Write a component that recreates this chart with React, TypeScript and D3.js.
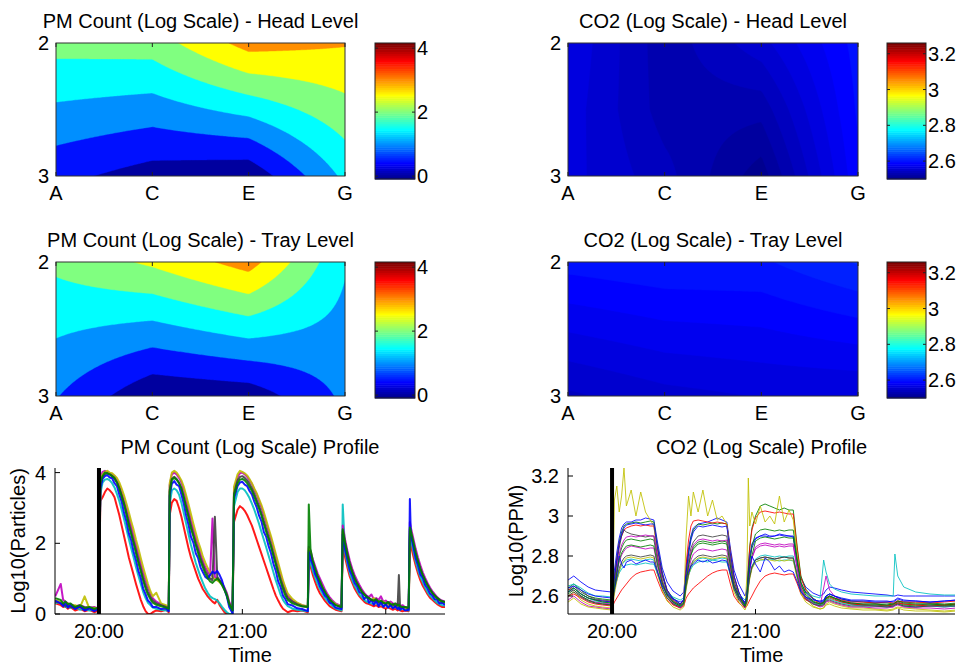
import React from 'react';
import * as d3 from 'd3';

const FONT = '"Liberation Sans", Arial, Helvetica, sans-serif';

// contour grids: first row is depth 2 (top), last row depth 3 (bottom); columns A, C, E, G
const positions = ['A', 'C', 'E', 'G'];
const depthTicks = [2, 3];

const pmHeadGrid = [
  [2.18, 2.24, 3.2, 3.04],
  [0.65, 0.27, 0.12, 1.61],
];
const pmTrayGrid = [
  [2.12, 2.59, 3.22, 1.56],
  [1.03, 0.09, 0.2, 1.1],
];
// the CO2 head grid also has a mid-depth row (2.5)
const co2HeadGrid = [
  [2.57, 2.528, 2.555, 2.6],
  [2.566, 2.53, 2.528, 2.597],
  [2.564, 2.54, 2.505, 2.592],
];
const co2TrayGrid = [
  [2.6, 2.605, 2.605, 2.62],
  [2.545, 2.555, 2.56, 2.56],
];

const pmLevels = [0, 0.5, 1, 1.5, 2, 2.5, 3, 3.5, 4];
const pmColorRange = [-0.09, 4.16];
const pmColorTicks = [0, 2, 4];
const co2ColorRange = [2.5, 3.26];
const co2ColorTicks = [2.6, 2.8, 3, 3.2];

// profiles: time in minutes after 19:00
const timeTicks = ['20:00', '21:00', '22:00'];
const eventStart = '20:00';
const pmTimeRange = [41.6, 204.8];
const co2TimeRange = [41.58, 203.44];
const pmYRange = [0, 4.13];
const pmYTicks = [0, 2, 4];
const co2YRange = [2.51, 3.24];
const co2YTicks = [2.6, 2.8, 3, 3.2];

const pmMinutes = [
  41.7, 44, 45, 46, 47, 48, 50, 52, 54, 56, 58, 59.8,
  60.6, 61.5, 62.5, 63.5, 64.5, 65.5, 66.5, 67.5, 68.5, 69.5, 70.5, 71.5, 72.5, 73.5, 74.5, 75.5, 76.5, 77.5, 78.5, 79.5, 80.5, 81.5, 82.5, 84, 86, 88, 89.2,
  89.6, 90.5, 91.5, 92.5, 93.5, 94.5, 95.5, 96.5, 97.5, 98.5, 99.5, 100.5, 101.5, 102.5, 103.5, 104.5, 105.5, 106.5, 107.5, 108.5, 109.5, 110.5, 111.5, 112.5, 113.5, 114.5, 115.9,
  116.5, 118, 119, 120, 121, 122, 123, 124, 125, 126, 127, 128, 129, 130, 131, 132, 133, 134, 135, 136, 137, 138, 139, 141, 143, 145, 147.4,
  147.8, 148.5, 149.5, 150.5, 151.5, 152.5, 153.5, 154.5, 155.5, 156.5, 157.5, 159, 161.5,
  162, 163, 164, 165, 166, 167, 168, 169, 170, 171, 172, 173, 174, 175, 176, 177, 178, 179, 180, 181, 182, 183, 184, 185, 185.5, 186, 187, 188, 189.6,
  190.1, 190.5, 191.5, 192.5, 193.5, 194.5, 195.5, 196.5, 197.5, 198.5, 199.5, 200.5, 201.5, 202.5, 203.5, 204.8,
];

const pmRed = [
  0.3, 0.25, 0.2, 0.22, 0.15, 0.2, 0.1, 0.15, 0.08, 0.12, 0.05, 0.1,
  3.2, 3.3, 3.45, 3.55, 3.5, 3.42, 3.3, 3.05, 2.8, 2.5, 2.2, 1.9, 1.6, 1.35, 1.1, 0.85, 0.62, 0.4, 0.22, 0.08, 0, 0, 0.05, 0.1, 0.08, 0.12, 0.05,
  2.8, 3.15, 3.25, 3.2, 3.0, 2.75, 2.45, 2.15, 1.85, 1.6, 1.4, 1.2, 1.0, 0.85, 0.7, 0.6, 0.5, 0.42, 0.35, 0.3, 0.4, 0.25, 0.15, 0.05, 0, 0, 0,
  2.6, 2.95, 3.05, 3.0, 2.92, 2.8, 2.65, 2.5, 2.3, 2.1, 1.9, 1.7, 1.5, 1.3, 1.1, 0.9, 0.7, 0.52, 0.38, 0.25, 0.15, 0.1, 0.05, 0.1, 0.08, 0.1, 0.05,
  1.5, 1.35, 1.1, 0.9, 0.72, 0.58, 0.48, 0.38, 0.3, 0.22, 0.18, 0.12, 0.08,
  2.0, 1.6, 1.3, 1.05, 0.88, 0.72, 0.6, 0.5, 0.42, 0.35, 0.3, 0.28, 0.25, 0.22, 0.25, 0.2, 0.22, 0.18, 0.15, 0.2, 0.15, 0.12, 0.15, 0.1, 0.12, 0.1, 0.08, 0.1, 0.08,
  2.1, 1.95, 1.65, 1.38, 1.15, 0.95, 0.8, 0.68, 0.56, 0.46, 0.4, 0.34, 0.28, 0.24, 0.2, 0.2,
];
const pmCyan = [
  0.3, 0.35, 0.25, 0.2, 0.22, 0.18, 0.2, 0.12, 0.15, 0.1, 0.12, 0.15,
  3.4, 3.72, 3.8, 3.82, 3.78, 3.7, 3.58, 3.4, 3.2, 2.95, 2.68, 2.4, 2.12, 1.85, 1.6, 1.32, 1.08, 0.85, 0.62, 0.45, 0.32, 0.25, 0.18, 0.15, 0.12, 0.1, 0.1,
  3.1, 3.5, 3.55, 3.5, 3.38, 3.15, 2.85, 2.55, 2.25, 1.95, 1.7, 1.45, 1.25, 1.05, 0.88, 0.72, 0.6, 0.5, 0.45, 0.42, 0.38, 0.3, 0.2, 0.12, 0.05, 0, 0,
  3.05, 3.45, 3.55, 3.55, 3.5, 3.4, 3.28, 3.12, 2.95, 2.75, 2.55, 2.32, 2.1, 1.88, 1.65, 1.42, 1.18, 0.95, 0.75, 0.55, 0.4, 0.3, 0.22, 0.15, 0.12, 0.1, 0.08,
  1.55, 1.45, 1.22, 1.02, 0.85, 0.7, 0.58, 0.46, 0.38, 0.3, 0.24, 0.16, 0.1,
  3.1, 1.75, 1.42, 1.15, 0.95, 0.8, 0.68, 0.55, 0.48, 0.4, 0.35, 0.32, 0.3, 0.28, 0.32, 0.25, 0.28, 0.22, 0.25, 0.2, 0.22, 0.18, 0.2, 0.15, 0.3, 0.12, 0.15, 0.12, 0.1,
  2.2, 2.1, 1.8, 1.5, 1.25, 1.05, 0.9, 0.75, 0.62, 0.52, 0.45, 0.38, 0.32, 0.28, 0.25, 0.24,
];
const pmMagenta = [
  0.5, 0.85, 0.4, 0.35, 0.3, 0.28, 0.22, 0.25, 0.2, 0.18, 0.2, 0.15,
  3.85, 4.02, 4.05, 4.02, 3.98, 3.95, 3.9, 3.8, 3.65, 3.45, 3.25, 3.0, 2.75, 2.48, 2.22, 1.95, 1.68, 1.42, 1.18, 0.95, 0.75, 0.58, 0.45, 0.35, 0.28, 0.22, 0.2,
  3.65, 3.95, 4.0, 3.95, 3.85, 3.72, 3.5, 3.25, 2.95, 2.65, 2.4, 2.15, 1.92, 1.7, 1.5, 1.32, 1.2, 1.1, 2.7, 1.05, 1.0, 0.95, 0.88, 0.75, 0.6, 0.35, 0.15,
  3.5, 3.88, 3.98, 4.0, 3.95, 3.88, 3.78, 3.68, 3.52, 3.38, 3.2, 3.02, 2.8, 2.58, 2.35, 2.12, 1.88, 1.62, 1.38, 1.12, 0.9, 0.7, 0.52, 0.38, 0.3, 0.25, 0.2,
  1.9, 1.78, 1.55, 1.35, 1.15, 1.0, 0.85, 0.7, 0.58, 0.48, 0.4, 0.3, 0.22,
  2.5, 2.1, 1.78, 1.5, 1.28, 1.1, 0.95, 0.82, 0.7, 0.6, 0.52, 0.48, 0.55, 0.42, 0.45, 0.4, 0.5, 0.35, 0.38, 0.32, 0.35, 0.3, 0.28, 0.3, 0.25, 0.22, 0.25, 0.2, 0.18,
  2.6, 2.45, 2.15, 1.85, 1.6, 1.38, 1.18, 1.02, 0.88, 0.75, 0.65, 0.56, 0.48, 0.42, 0.38, 0.35,
];
const pmOlive = [
  0.4, 0.35, 0.3, 0.25, 0.3, 0.22, 0.25, 0.18, 0.5, 0.15, 0.18, 0.12,
  3.75, 3.95, 4.02, 4.05, 4.0, 3.98, 3.92, 3.85, 3.72, 3.55, 3.35, 3.12, 2.88, 2.62, 2.38, 2.1, 1.85, 1.58, 1.32, 1.08, 0.85, 0.65, 0.5, 0.6, 0.3, 0.25, 0.2,
  3.7, 4.0, 4.05, 4.0, 3.9, 3.78, 3.6, 3.35, 3.1, 2.82, 2.55, 2.3, 2.05, 1.85, 1.62, 1.45, 1.3, 1.18, 1.05, 0.98, 0.95, 0.9, 0.82, 0.7, 0.55, 0.3, 0.12,
  3.6, 3.95, 4.05, 4.02, 3.98, 3.92, 3.82, 3.7, 3.55, 3.42, 3.25, 3.08, 2.88, 2.65, 2.42, 2.2, 1.95, 1.7, 1.45, 1.2, 0.95, 0.75, 0.58, 0.42, 0.32, 0.25, 0.22,
  1.85, 1.7, 1.45, 1.25, 1.05, 0.9, 0.75, 0.62, 0.52, 0.42, 0.35, 0.28, 0.2,
  2.3, 1.95, 1.62, 1.35, 1.15, 0.98, 0.85, 0.72, 0.62, 0.55, 0.48, 0.42, 0.38, 0.45, 0.35, 0.32, 0.3, 0.35, 0.28, 0.25, 0.3, 0.22, 0.25, 0.2, 0.22, 0.18, 0.2, 0.15, 0.15,
  2.35, 2.3, 2.0, 1.7, 1.45, 1.22, 1.05, 0.9, 0.78, 0.66, 0.56, 0.48, 0.42, 0.36, 0.32, 0.3,
];
const pmGray = [
  0.35, 0.3, 0.28, 0.22, 0.25, 0.2, 0.18, 0.2, 0.15, 0.18, 0.12, 0.15,
  3.65, 3.88, 3.95, 3.98, 3.95, 3.9, 3.82, 3.72, 3.55, 3.35, 3.12, 2.85, 2.58, 2.32, 2.05, 1.8, 1.52, 1.28, 1.02, 0.8, 0.62, 0.48, 0.38, 0.3, 0.25, 0.2, 0.18,
  3.5, 3.82, 3.88, 3.82, 3.72, 3.55, 3.3, 3.05, 2.78, 2.5, 2.25, 2.0, 1.8, 1.58, 1.4, 1.22, 1.1, 1.0, 0.95, 2.75, 1.05, 0.95, 0.85, 0.72, 0.55, 0.3, 0.1,
  3.4, 3.78, 3.88, 3.9, 3.85, 3.78, 3.68, 3.55, 3.4, 3.22, 3.05, 2.85, 2.62, 2.4, 2.18, 1.95, 1.7, 1.45, 1.2, 0.98, 0.78, 0.6, 0.45, 0.35, 0.28, 0.22, 0.2,
  1.8, 1.68, 1.45, 1.22, 1.02, 0.88, 0.72, 0.6, 0.5, 0.4, 0.32, 0.25, 0.18,
  2.35, 2.0, 1.7, 1.42, 1.2, 1.02, 0.88, 0.75, 0.65, 0.56, 0.5, 0.45, 0.4, 0.36, 0.4, 0.32, 0.35, 0.3, 0.28, 0.32, 0.25, 0.28, 0.22, 0.25, 1.1, 0.2, 0.18, 0.2, 0.15,
  2.4, 2.3, 2.0, 1.72, 1.48, 1.28, 1.1, 0.95, 0.82, 0.7, 0.6, 0.52, 0.46, 0.4, 0.36, 0.34,
];
const pmBlue = [
  0.38, 0.3, 0.22, 0.32, 0.18, 0.26, 0.14, 0.22, 0.1, 0.16, 0.08, 0.14,
  3.55, 3.82, 3.9, 3.93, 3.86, 3.84, 3.7, 3.62, 3.38, 3.18, 2.86, 2.62, 2.28, 2.08, 1.76, 1.52, 1.22, 1.02, 0.72, 0.56, 0.38, 0.32, 0.2, 0.2, 0.14, 0.16, 0.08,
  3.35, 3.68, 3.76, 3.66, 3.62, 3.38, 3.12, 2.78, 2.52, 2.18, 2.02, 1.72, 1.58, 1.32, 1.18, 1.05, 1.0, 1.1, 1.2, 1.15, 1.22, 1.1, 0.95, 0.7, 0.5, 0.2, 0.02,
  3.25, 3.62, 3.72, 3.74, 3.66, 3.62, 3.48, 3.38, 3.18, 3.02, 2.78, 2.62, 2.32, 2.18, 1.92, 1.72, 1.42, 1.22, 0.92, 0.76, 0.52, 0.42, 0.28, 0.24, 0.16, 0.14, 0.08,
  1.75, 1.55, 1.38, 1.12, 0.98, 0.78, 0.66, 0.52, 0.46, 0.32, 0.3, 0.18, 0.14,
  2.25, 1.82, 1.52, 1.22, 1.08, 0.88, 0.78, 0.62, 0.58, 0.42, 0.5, 0.32, 0.4, 0.26, 0.38, 0.22, 0.34, 0.2, 0.28, 0.18, 0.26, 0.16, 0.22, 0.14, 0.2, 0.12, 0.18, 0.1, 0.12,
  3.25, 2.25, 1.92, 1.58, 1.38, 1.12, 1.02, 0.82, 0.72, 0.58, 0.52, 0.42, 0.4, 0.3, 0.32, 0.26,
];
const pmGreen = [
  0.45, 0.4, 0.3, 0.35, 0.28, 0.3, 0.2, 0.25, 0.18, 0.2, 0.15, 0.18,
  3.7, 3.9, 4.0, 3.98, 3.95, 3.9, 3.85, 3.72, 3.55, 3.32, 3.1, 2.82, 2.5, 2.25, 2.0, 1.72, 1.45, 1.2, 0.95, 0.72, 0.55, 0.42, 0.32, 0.26, 0.22, 0.18, 0.15,
  3.45, 3.8, 3.85, 3.8, 3.7, 3.55, 3.3, 3.0, 2.72, 2.42, 2.2, 1.95, 1.72, 1.5, 1.32, 1.15, 1.02, 0.92, 0.88, 0.95, 1.0, 0.92, 0.82, 0.68, 0.52, 0.28, 0.1,
  3.35, 3.7, 3.8, 3.82, 3.78, 3.7, 3.6, 3.48, 3.32, 3.15, 2.98, 2.78, 2.55, 2.32, 2.12, 1.9, 1.65, 1.4, 1.15, 0.92, 0.7, 0.52, 0.4, 0.3, 0.25, 0.22, 0.2,
  3.1, 1.85, 1.5, 1.28, 1.08, 0.92, 0.76, 0.64, 0.52, 0.42, 0.35, 0.25, 0.2,
  2.4, 2.0, 1.65, 1.38, 1.18, 1.0, 0.86, 0.74, 0.62, 0.55, 0.48, 0.45, 0.4, 0.38, 0.42, 0.35, 0.38, 0.32, 0.3, 0.34, 0.28, 0.26, 0.3, 0.24, 0.26, 0.22, 0.2, 0.2, 0.18,
  2.45, 2.35, 2.05, 1.75, 1.5, 1.28, 1.1, 0.95, 0.82, 0.7, 0.6, 0.52, 0.45, 0.4, 0.36, 0.34,
];
const pmSeries = [pmRed, pmCyan, pmMagenta, pmOlive, pmGray, pmBlue, pmGreen];
const pmSeriesColors = ['#ff0000', '#00bfbf', '#bf00bf', '#bfbf00', '#404040', '#0000ff', '#008000'];

const co2Minutes = [
  41.6, 44, 47, 50, 53, 56, 59.8,
  60.3, 61, 62, 63, 64, 65, 66, 68, 70, 72, 74, 76, 77.5,
  79, 81, 83, 85.5, 88.5,
  90, 91, 92, 93, 94, 96, 98, 100, 102, 104, 106, 108,
  109.5, 111, 113, 115.6,
  116.4, 117, 117.6, 118.5, 120, 122, 124, 126, 128, 130, 132, 134, 135.8,
  137.5, 139, 141, 144, 147,
  148.5, 149.5, 151, 153, 156, 160,
  165, 170, 175, 177.6, 178.3, 179.5, 182, 187, 193, 199, 204.2,
];

const co2Line1 = [
  2.68, 2.7, 2.67, 2.645, 2.63, 2.625, 2.62,
  2.64, 2.73, 2.82, 2.89, 2.94, 2.96, 2.97, 2.97, 2.98, 2.98, 2.99, 2.985, 2.98,
  2.87, 2.74, 2.67, 2.625, 2.6,
  2.62, 2.75, 2.84, 2.9, 2.94, 2.96, 2.965, 2.97, 2.98, 2.99, 2.98, 2.97,
  2.84, 2.73, 2.66, 2.6,
  2.63, 2.72, 2.78, 2.84, 2.885, 2.9, 2.91, 2.9, 2.9, 2.91, 2.905, 2.9, 2.9,
  2.78, 2.69, 2.645, 2.615, 2.6,
  2.61, 2.63, 2.645, 2.64, 2.63, 2.62,
  2.615, 2.61, 2.605, 2.6, 2.6, 2.605, 2.6, 2.6, 2.6, 2.6, 2.6,
];
const co2Line2 = [
  2.64, 2.66, 2.63, 2.6, 2.59, 2.585, 2.58,
  2.6, 2.7, 2.79, 2.87, 2.92, 2.95, 2.96, 2.965, 2.97, 2.965, 2.97, 2.975, 2.97,
  2.85, 2.72, 2.63, 2.59, 2.56,
  2.58, 2.72, 2.82, 2.89, 2.93, 2.96, 2.955, 2.96, 2.965, 2.96, 2.965, 2.96,
  2.82, 2.7, 2.62, 2.56,
  2.61, 2.75, 2.85, 2.94, 3.0, 3.05, 3.06, 3.05, 3.04, 3.03, 3.04, 3.03, 3.03,
  2.84, 2.7, 2.635, 2.59, 2.565,
  2.57, 2.6, 2.61, 2.6, 2.585, 2.575,
  2.57, 2.565, 2.565, 2.56, 2.565, 2.575, 2.57, 2.565, 2.565, 2.56, 2.565,
];
const co2Line3 = [
  2.63, 2.64, 2.61, 2.59, 2.58, 2.575, 2.57,
  2.59, 2.68, 2.78, 2.86, 2.9, 2.93, 2.94, 2.95, 2.955, 2.95, 2.955, 2.95, 2.95,
  2.83, 2.71, 2.63, 2.58, 2.555,
  2.58, 2.76, 2.88, 2.95, 2.975, 2.98, 2.975, 2.97, 2.965, 2.97, 2.965, 2.96,
  2.82, 2.7, 2.62, 2.555,
  2.6, 2.74, 2.84, 2.93, 2.99, 3.02, 3.025, 3.02, 3.015, 3.02, 3.015, 3.01, 3.01,
  2.83, 2.69, 2.63, 2.585, 2.56,
  2.565, 2.59, 2.6, 2.59, 2.58, 2.57,
  2.57, 2.565, 2.57, 2.565, 2.57, 2.575, 2.57, 2.57, 2.565, 2.57, 2.575,
];
const co2Line4 = [
  2.65, 2.66, 2.64, 2.615, 2.6, 2.6, 2.595,
  2.6, 2.64, 2.68, 2.715, 2.735, 2.75, 2.755, 2.76, 2.755, 2.76, 2.765, 2.76, 2.76,
  2.71, 2.65, 2.615, 2.595, 2.58,
  2.59, 2.66, 2.705, 2.735, 2.755, 2.77, 2.775, 2.77, 2.78, 2.775, 2.77, 2.77,
  2.705, 2.65, 2.61, 2.58,
  2.6, 2.66, 2.7, 2.74, 2.77, 2.78, 2.78, 2.785, 2.78, 2.775, 2.78, 2.78, 2.775,
  2.7, 2.645, 2.62, 2.6, 2.59,
  2.78, 2.72, 2.66, 2.635, 2.62, 2.61,
  2.605, 2.6, 2.6, 2.6, 2.81, 2.7, 2.645, 2.62, 2.61, 2.605, 2.605,
];
const co2Line5 = [
  2.62, 2.63, 2.6, 2.58, 2.57, 2.565, 2.56,
  2.575, 2.645, 2.715, 2.77, 2.805, 2.825, 2.84, 2.85, 2.845, 2.84, 2.835, 2.84, 2.84,
  2.75, 2.66, 2.6, 2.565, 2.545,
  2.56, 2.66, 2.73, 2.78, 2.81, 2.83, 2.835, 2.83, 2.825, 2.83, 2.835, 2.83,
  2.73, 2.64, 2.59, 2.545,
  2.58, 2.67, 2.73, 2.79, 2.835, 2.85, 2.855, 2.85, 2.845, 2.85, 2.845, 2.85, 2.85,
  2.73, 2.64, 2.595, 2.565, 2.55,
  2.64, 2.7, 2.63, 2.6, 2.575, 2.56,
  2.555, 2.55, 2.55, 2.545, 2.555, 2.56, 2.55, 2.545, 2.55, 2.545, 2.55,
];
const co2Line6 = [
  2.6, 2.62, 2.58, 2.56, 2.55, 2.545, 2.54,
  2.6, 3.08, 3.15, 3.02, 3.1, 3.24, 3.05, 3.13, 3.0, 3.12, 3.02, 2.98, 2.95,
  2.8, 2.68, 2.6, 2.56, 2.54,
  2.56, 2.9, 3.1, 3.0, 3.12, 3.02, 3.13, 3.0, 3.08, 2.98, 3.0, 2.96,
  2.8, 2.68, 2.6, 2.54,
  2.7, 3.19, 2.95, 3.02, 2.96, 3.05, 2.97, 3.0, 2.96, 3.1, 2.97, 3.03, 2.98,
  2.8, 2.66, 2.59, 2.55, 2.535,
  2.54, 2.56, 2.57, 2.56, 2.55, 2.54,
  2.54, 2.535, 2.53, 2.535, 2.54, 2.545, 2.54, 2.535, 2.53, 2.525, 2.53,
];
const co2Line7 = [
  2.63, 2.65, 2.62, 2.6, 2.585, 2.58, 2.575,
  2.59, 2.67, 2.76, 2.84, 2.9, 2.93, 2.92, 2.91, 2.905, 2.9, 2.895, 2.9, 2.9,
  2.8, 2.7, 2.62, 2.575, 2.555,
  2.57, 2.69, 2.78, 2.84, 2.87, 2.9, 2.905, 2.9, 2.895, 2.9, 2.905, 2.9,
  2.78, 2.675, 2.605, 2.555,
  2.58, 2.65, 2.7, 2.745, 2.78, 2.79, 2.795, 2.79, 2.785, 2.79, 2.795, 2.79, 2.79,
  2.7, 2.63, 2.595, 2.57, 2.56,
  2.57, 2.59, 2.6, 2.59, 2.575, 2.565,
  2.56, 2.56, 2.555, 2.56, 2.565, 2.57, 2.56, 2.555, 2.56, 2.555, 2.56,
];
const co2Line8 = [
  2.62, 2.64, 2.61, 2.59, 2.58, 2.575, 2.57,
  2.59, 2.69, 2.78, 2.86, 2.91, 2.94, 2.955, 2.96, 2.965, 2.96, 2.955, 2.96, 2.96,
  2.84, 2.71, 2.63, 2.585, 2.56,
  2.58, 2.72, 2.81, 2.88, 2.92, 2.95, 2.945, 2.95, 2.955, 2.95, 2.945, 2.95,
  2.81, 2.7, 2.62, 2.56,
  2.6, 2.72, 2.8, 2.86, 2.89, 2.9, 2.9, 2.895, 2.9, 2.905, 2.9, 2.9, 2.895,
  2.76, 2.665, 2.62, 2.585, 2.57,
  2.575, 2.6, 2.61, 2.6, 2.59, 2.58,
  2.58, 2.575, 2.575, 2.57, 2.575, 2.585, 2.575, 2.575, 2.57, 2.575, 2.58,
];
const co2Line9 = [
  2.61, 2.63, 2.6, 2.58, 2.565, 2.56, 2.555,
  2.57, 2.65, 2.735, 2.8, 2.84, 2.865, 2.88, 2.885, 2.88, 2.875, 2.88, 2.885, 2.88,
  2.78, 2.675, 2.61, 2.57, 2.55,
  2.565, 2.68, 2.76, 2.81, 2.845, 2.87, 2.875, 2.87, 2.865, 2.87, 2.875, 2.87,
  2.76, 2.66, 2.6, 2.55,
  2.585, 2.68, 2.74, 2.8, 2.875, 2.89, 2.895, 2.89, 2.885, 2.89, 2.895, 2.89, 2.89,
  2.76, 2.655, 2.605, 2.57, 2.555,
  2.56, 2.585, 2.595, 2.585, 2.57, 2.56,
  2.555, 2.555, 2.55, 2.555, 2.56, 2.565, 2.555, 2.55, 2.555, 2.55, 2.555,
];
const co2Line10 = [
  2.6, 2.61, 2.59, 2.57, 2.56, 2.555, 2.55,
  2.55, 2.57, 2.59, 2.61, 2.63, 2.645, 2.66, 2.69, 2.71, 2.72, 2.725, 2.73, 2.73,
  2.68, 2.62, 2.58, 2.555, 2.54,
  2.55, 2.59, 2.61, 2.625, 2.64, 2.66, 2.68, 2.7, 2.715, 2.725, 2.73, 2.73,
  2.66, 2.6, 2.565, 2.54,
  2.55, 2.565, 2.58, 2.6, 2.635, 2.675, 2.7, 2.71, 2.715, 2.71, 2.705, 2.71, 2.71,
  2.66, 2.61, 2.58, 2.565, 2.555,
  2.56, 2.58, 2.59, 2.58, 2.57, 2.56,
  2.555, 2.55, 2.55, 2.555, 2.56, 2.565, 2.56, 2.555, 2.55, 2.555, 2.56,
];
const co2Line11 = [
  2.62, 2.64, 2.61, 2.59, 2.575, 2.57, 2.565,
  2.575, 2.63, 2.68, 2.725, 2.755, 2.77, 2.78, 2.785, 2.78, 2.775, 2.78, 2.785, 2.78,
  2.71, 2.64, 2.59, 2.565, 2.55,
  2.56, 2.645, 2.705, 2.745, 2.77, 2.785, 2.79, 2.785, 2.78, 2.785, 2.79, 2.785,
  2.705, 2.635, 2.585, 2.55,
  2.575, 2.65, 2.7, 2.75, 2.785, 2.8, 2.805, 2.8, 2.795, 2.8, 2.795, 2.8, 2.8,
  2.7, 2.63, 2.59, 2.565, 2.555,
  2.56, 2.58, 2.585, 2.575, 2.565, 2.555,
  2.55, 2.55, 2.545, 2.55, 2.555, 2.56, 2.55, 2.545, 2.55, 2.545, 2.55,
];
const co2Line12 = [
  2.58, 2.6, 2.57, 2.55, 2.545, 2.54, 2.535,
  2.555, 2.645, 2.735, 2.81, 2.855, 2.88, 2.895, 2.9, 2.895, 2.9, 2.905, 2.9, 2.9,
  2.79, 2.675, 2.605, 2.565, 2.54,
  2.555, 2.675, 2.76, 2.82, 2.855, 2.88, 2.885, 2.88, 2.875, 2.88, 2.875, 2.88,
  2.76, 2.66, 2.59, 2.54,
  2.575, 2.67, 2.73, 2.79, 2.845, 2.86, 2.865, 2.86, 2.855, 2.86, 2.855, 2.86, 2.86,
  2.735, 2.64, 2.59, 2.56, 2.545,
  2.55, 2.57, 2.575, 2.565, 2.555, 2.545,
  2.545, 2.54, 2.54, 2.545, 2.55, 2.555, 2.545, 2.54, 2.54, 2.535, 2.54,
];
const co2Line13 = [
  2.57, 2.59, 2.56, 2.545, 2.54, 2.535, 2.53,
  2.545, 2.61, 2.675, 2.725, 2.76, 2.775, 2.79, 2.795, 2.79, 2.785, 2.79, 2.795, 2.79,
  2.71, 2.63, 2.575, 2.545, 2.53,
  2.545, 2.635, 2.7, 2.745, 2.77, 2.79, 2.795, 2.79, 2.785, 2.79, 2.795, 2.79,
  2.7, 2.62, 2.57, 2.53,
  2.555, 2.635, 2.685, 2.735, 2.77, 2.78, 2.785, 2.78, 2.775, 2.78, 2.775, 2.78, 2.78,
  2.68, 2.61, 2.57, 2.545, 2.535,
  2.54, 2.555, 2.56, 2.55, 2.54, 2.535,
  2.53, 2.53, 2.525, 2.53, 2.535, 2.54, 2.53, 2.525, 2.525, 2.52, 2.525,
];
const co2Line14 = [
  2.6, 2.62, 2.595, 2.575, 2.565, 2.56, 2.555,
  2.57, 2.63, 2.69, 2.74, 2.77, 2.79, 2.8, 2.805, 2.8, 2.795, 2.8, 2.805, 2.8,
  2.725, 2.64, 2.59, 2.56, 2.545,
  2.56, 2.65, 2.71, 2.755, 2.78, 2.8, 2.805, 2.8, 2.795, 2.8, 2.805, 2.8,
  2.71, 2.635, 2.58, 2.545,
  2.57, 2.645, 2.695, 2.745, 2.78, 2.79, 2.795, 2.79, 2.785, 2.79, 2.795, 2.79, 2.79,
  2.695, 2.62, 2.585, 2.56, 2.55,
  2.555, 2.575, 2.58, 2.57, 2.56, 2.55,
  2.55, 2.55, 2.545, 2.55, 2.555, 2.56, 2.55, 2.545, 2.55, 2.55, 2.55,
];
const co2Line15 = [
  2.64, 2.65, 2.63, 2.61, 2.6, 2.595, 2.59,
  2.6, 2.64, 2.7, 2.8, 2.76, 2.74, 2.77, 2.78, 2.76, 2.77, 2.78, 2.77, 2.77,
  2.72, 2.65, 2.61, 2.585, 2.57,
  2.58, 2.7, 2.72, 2.75, 2.76, 2.78, 2.77, 2.78, 2.765, 2.77, 2.78, 2.775,
  2.71, 2.645, 2.6, 2.57,
  2.6, 2.68, 2.74, 2.8, 2.76, 2.72, 2.79, 2.77, 2.73, 2.75, 2.72, 2.73, 2.72,
  2.67, 2.62, 2.595, 2.58, 2.575,
  2.58, 2.6, 2.61, 2.6, 2.585, 2.575,
  2.575, 2.57, 2.57, 2.575, 2.58, 2.59, 2.58, 2.575, 2.57, 2.575, 2.58,
];
const co2Line16 = [
  2.62, 2.64, 2.61, 2.59, 2.58, 2.57, 2.565,
  2.58, 2.65, 2.72, 2.78, 2.815, 2.835, 2.85, 2.855, 2.85, 2.845, 2.85, 2.855, 2.85,
  2.76, 2.665, 2.605, 2.57, 2.55,
  2.565, 2.675, 2.75, 2.805, 2.835, 2.86, 2.865, 2.86, 2.855, 2.86, 2.865, 2.86,
  2.75, 2.65, 2.595, 2.55,
  2.59, 2.7, 2.77, 2.85, 2.91, 2.93, 2.935, 2.93, 2.925, 2.93, 2.925, 2.93, 2.93,
  2.78, 2.67, 2.615, 2.575, 2.56,
  2.565, 2.59, 2.6, 2.59, 2.575, 2.565,
  2.56, 2.56, 2.555, 2.56, 2.565, 2.575, 2.565, 2.56, 2.56, 2.555, 2.56,
];
const co2Series = [
  co2Line1, co2Line2, co2Line3, co2Line4, co2Line5, co2Line6, co2Line7, co2Line8,
  co2Line9, co2Line10, co2Line11, co2Line12, co2Line13, co2Line14, co2Line15, co2Line16,
];
// matlab's old default colour order, cycled
const lineColors = ['#0000ff', '#008000', '#ff0000', '#00bfbf', '#bf00bf', '#bfbf00', '#404040'];

// jet(64) colormap, as matlab builds it
function jet(i) {
  const u = (k) => (k < 1 || k > 47 ? 0 : k <= 16 ? k / 16 : k <= 31 ? 1 : (48 - k) / 16);
  const n = i + 1;
  return d3.rgb(u(n - 24) * 255, u(n - 8) * 255, u(n + 8) * 255).formatHex();
}
function jetFor(v, range) {
  const i = Math.floor(((v - range[0]) / (range[1] - range[0])) * 64 + 1e-9);
  return jet(Math.max(0, Math.min(63, i)));
}

// linear interpolation of the coarse grid onto a fine one
function refine(rows, nx, ny) {
  const nr = rows.length, nc = rows[0].length;
  const out = new Array(nx * ny);
  for (let j = 0; j < ny; j++) {
    const v = (j / (ny - 1)) * (nr - 1);
    const r0 = Math.min(Math.floor(v), nr - 2), fy = v - r0;
    for (let i = 0; i < nx; i++) {
      const u = (i / (nx - 1)) * (nc - 1);
      const c0 = Math.min(Math.floor(u), nc - 2), fx = u - c0;
      const a = rows[r0][c0] * (1 - fx) + rows[r0][c0 + 1] * fx;
      const b = rows[r0 + 1][c0] * (1 - fx) + rows[r0 + 1][c0 + 1] * fx;
      out[j * nx + i] = a * (1 - fy) + b * fy;
    }
  }
  return out;
}

function ContourPanel({ id, box, bar, grid, levels, range, barTicks, title }) {
  const nx = 180, ny = 84;
  const values = refine(grid, nx, ny);
  const contours = d3.contours().size([nx, ny]).thresholds(levels)(values);
  const gx = d3.scaleLinear().domain([0.5, nx - 0.5]).range([box.x, box.x + box.w]);
  const gy = d3.scaleLinear().domain([0.5, ny - 0.5]).range([box.y, box.y + box.h]);
  const path = d3.geoPath(
    d3.geoTransform({
      point(px, py) {
        this.stream.point(gx(px), gy(py));
      },
    })
  );
  const x = d3.scalePoint().domain(positions).range([box.x, box.x + box.w]);
  const y = d3.scaleLinear().domain([2, 3]).range([box.y, box.y + box.h]);
  const cy = d3.scaleLinear().domain(range).range([bar.y + bar.h, bar.y]);
  const step = (range[1] - range[0]) / 64;
  const fmt = d3.format('~g');

  return (
    <g>
      <defs>
        <clipPath id={id}>
          <rect x={box.x} y={box.y} width={box.w} height={box.h} />
        </clipPath>
      </defs>
      <text x={box.x + box.w / 2} y={box.y - 15} textAnchor="middle" fontSize={20}>
        {title}
      </text>
      <g clipPath={`url(#${id})`}>
        {contours.map((c, k) => (
          <path key={k} d={path(c)} fill={jetFor(c.value, range)} stroke={jetFor(c.value, range)} strokeWidth={0.4} />
        ))}
      </g>
      <rect x={box.x} y={box.y} width={box.w} height={box.h} fill="none" stroke="#333" strokeWidth={1} />
      {positions.map((p) => (
        <g key={p}>
          <line x1={x(p)} x2={x(p)} y1={box.y} y2={box.y + 4} stroke="#222" />
          <line x1={x(p)} x2={x(p)} y1={box.y + box.h} y2={box.y + box.h - 4} stroke="#222" />
          <text x={x(p)} y={box.y + box.h + 24} textAnchor="middle" fontSize={20}>
            {p}
          </text>
        </g>
      ))}
      {depthTicks.map((d) => (
        <text key={d} x={box.x - 7} y={y(d)} dy="0.35em" textAnchor="end" fontSize={20}>
          {d}
        </text>
      ))}

      {d3.range(64).map((k) => (
        <rect
          key={k}
          x={bar.x}
          y={cy(range[0] + (k + 1) * step)}
          width={bar.w}
          height={cy(range[0] + k * step) - cy(range[0] + (k + 1) * step) + 0.5}
          fill={jet(k)}
        />
      ))}
      <rect x={bar.x} y={bar.y} width={bar.w} height={bar.h} fill="none" stroke="#222" strokeWidth={1} />
      {barTicks.map((t) => (
        <g key={t}>
          <line x1={bar.x} x2={bar.x + 3} y1={cy(t)} y2={cy(t)} stroke="#222" />
          <line x1={bar.x + bar.w} x2={bar.x + bar.w - 3} y1={cy(t)} y2={cy(t)} stroke="#222" />
          <text x={bar.x + bar.w + 2} y={cy(t)} dy="0.35em" fontSize={20}>
            {fmt(t)}
          </text>
        </g>
      ))}
    </g>
  );
}

const parseHM = d3.timeParse('%H:%M');
const dayStart = parseHM('19:00');
const atMinute = (m) => new Date(dayStart.getTime() + m * 60000);

function ProfilePanel({ id, box, minutes, series, colors, timeRange, yRange, yTicks, title, yLabel, yLabelX, width, opacity }) {
  const x = d3.scaleTime().domain(timeRange.map(atMinute)).range([box.x, box.x + box.w]);
  const y = d3.scaleLinear().domain(yRange).range([box.y + box.h, box.y]);
  const line = d3
    .line()
    .x((_, i) => x(atMinute(minutes[i])))
    .y((d) => y(d));
  const n = minutes.length;
  const ev = x(parseHM(eventStart));
  const fmt = d3.format('~g');
  const tfmt = d3.timeFormat('%H:%M');
  const bottom = box.y + box.h;

  return (
    <g>
      <defs>
        <clipPath id={id}>
          <rect x={box.x} y={box.y - 3} width={box.w} height={box.h + 3} />
        </clipPath>
      </defs>
      <text x={box.x + box.w / 2} y={box.y - 14} textAnchor="middle" fontSize={20}>
        {title}
      </text>
      <g clipPath={`url(#${id})`}>
        {series.map((s, k) => (
          <path
            key={k}
            d={line(s.slice(0, n))}
            fill="none"
            stroke={colors[k % colors.length]}
            strokeWidth={width}
            strokeOpacity={opacity}
            strokeLinejoin="round"
          />
        ))}
      </g>
      <line x1={ev} x2={ev} y1={box.y} y2={bottom} stroke="#000" strokeWidth={4} />
      <line x1={box.x} x2={box.x} y1={box.y} y2={bottom} stroke="#000" />
      <line x1={box.x} x2={box.x + box.w} y1={bottom} y2={bottom} stroke="#000" />
      {yTicks.map((t) => (
        <g key={t}>
          <line x1={box.x} x2={box.x + 5} y1={y(t)} y2={y(t)} stroke="#000" />
          <text x={box.x - 9} y={y(t)} dy="0.35em" textAnchor="end" fontSize={20}>
            {fmt(t)}
          </text>
        </g>
      ))}
      {timeTicks.map((t) => {
        const d = parseHM(t);
        return (
          <g key={t}>
            <line x1={x(d)} x2={x(d)} y1={bottom} y2={bottom - 5} stroke="#000" />
            <text x={x(d)} y={bottom + 24} textAnchor="middle" fontSize={20}>
              {tfmt(d)}
            </text>
          </g>
        );
      })}
      <text x={box.x + box.w / 2} y={bottom + 48} textAnchor="middle" fontSize={20}>
        Time
      </text>
      <text
        transform={`translate(${yLabelX},${box.y + box.h / 2}) rotate(-90)`}
        textAnchor="middle"
        dy="0.35em"
        fontSize={20}
      >
        {yLabel}
      </text>
    </g>
  );
}

const co2Levels = d3.range(64).map((k) => co2ColorRange[0] + (k * (co2ColorRange[1] - co2ColorRange[0])) / 64);

export default function App() {
  return (
    <svg
      width={961}
      height={665}
      style={{ position: 'absolute', left: 0, top: 0, background: '#fff' }}
      fontFamily={FONT}
    >
      <rect width={961} height={665} fill="#fff" />
      <ContourPanel
        id="c1"
        box={{ x: 56, y: 43, w: 289, h: 133 }}
        bar={{ x: 375, y: 43, w: 40, h: 136 }}
        grid={pmHeadGrid}
        levels={pmLevels}
        range={pmColorRange}
        barTicks={pmColorTicks}
        title="PM Count (Log Scale) - Head Level"
      />
      <ContourPanel
        id="c2"
        box={{ x: 568, y: 43, w: 290, h: 133 }}
        bar={{ x: 887, y: 43, w: 39, h: 136 }}
        grid={co2HeadGrid}
        levels={co2Levels}
        range={co2ColorRange}
        barTicks={co2ColorTicks}
        title="CO2 (Log Scale) - Head Level"
      />
      <ContourPanel
        id="c3"
        box={{ x: 56, y: 262, w: 289, h: 134 }}
        bar={{ x: 375, y: 262, w: 40, h: 136 }}
        grid={pmTrayGrid}
        levels={pmLevels}
        range={pmColorRange}
        barTicks={pmColorTicks}
        title="PM Count (Log Scale) - Tray Level"
      />
      <ContourPanel
        id="c4"
        box={{ x: 568, y: 262, w: 290, h: 134 }}
        bar={{ x: 887, y: 262, w: 39, h: 136 }}
        grid={co2TrayGrid}
        levels={co2Levels}
        range={co2ColorRange}
        barTicks={co2ColorTicks}
        title="CO2 (Log Scale) - Tray Level"
      />
      <ProfilePanel
        id="p1"
        box={{ x: 55, y: 468, w: 390, h: 146 }}
        minutes={pmMinutes}
        series={pmSeries}
        colors={pmSeriesColors}
        timeRange={pmTimeRange}
        yRange={pmYRange}
        yTicks={pmYTicks}
        title="PM Count (Log Scale) Profile"
        yLabel="Log10(Particles)"
        yLabelX={18}
        width={2}
        opacity={0.9}
      />
      <ProfilePanel
        id="p2"
        box={{ x: 568, y: 468, w: 387, h: 146 }}
        minutes={co2Minutes}
        series={co2Series}
        colors={lineColors}
        timeRange={co2TimeRange}
        yRange={co2YRange}
        yTicks={co2YTicks}
        title="CO2 (Log Scale) Profile"
        yLabel="Log10(PPM)"
        yLabelX={516}
        width={1}
        opacity={0.85}
      />
    </svg>
  );
}
